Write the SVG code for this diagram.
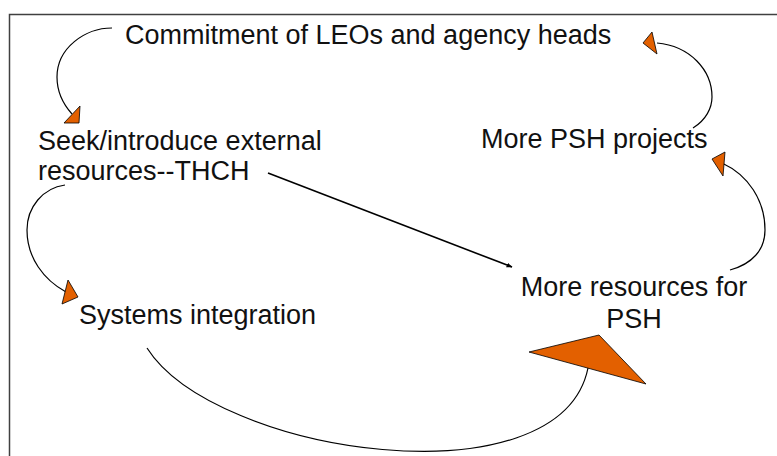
<svg xmlns="http://www.w3.org/2000/svg" width="777" height="456" viewBox="0 0 777 456">
  <defs>
    <style>
      .lbl { font-family: "Liberation Sans", Arial, sans-serif; font-size: 27px; fill: #111111; }
      .curve { fill: none; stroke: #000000; stroke-width: 1.2; }
      .head { fill: #E36000; stroke: #000000; stroke-width: 0.8; stroke-linejoin: miter; }
    </style>
    <marker id="arr" viewBox="0 0 10 10" refX="9" refY="5" markerWidth="6" markerHeight="6" orient="auto" markerUnits="userSpaceOnUse">
      <path d="M0,1 L10,5 L0,9 Z" fill="#000000"/>
    </marker>
  </defs>
  <rect x="0" y="0" width="777" height="456" fill="#ffffff"/>
  <rect x="9.5" y="14.5" width="820" height="500" fill="none" stroke="#404040" stroke-width="1.5"/>

  <g id="connectors">
    <path class="curve" d="M112,28 C85,28 57,48 57,77 C57,93 63,104 72,114"/>
    <polygon class="head" points="64,123 80,106 79,123"/>
    <path class="curve" d="M65,185 C43,188 27,207 27,230 C27,258 44,280 66,292"/>
    <polygon class="head" points="62,304 68,280 78,297"/>
    <path class="curve" d="M730,270 C752,264 765,250 765,230 C765,200 748,175 722,163"/>
    <polygon class="head" points="712,159 725,152 723,176"/>
    <path class="curve" d="M693,128 C706,120 712,108 712,97 C712,70 690,46 657,43"/>
    <polygon class="head" points="643,43 652,32 657,54"/>
    <path class="curve" d="M147,348 C215,455 560,505 588,368"/>
    <polygon class="head" points="529,352 599,335 646,384"/>
    <path d="M268,173 L512,267" stroke="#000000" stroke-width="1.6" fill="none" marker-end="url(#arr)"/>
  </g>

  <g id="node-commitment">
    <text class="lbl" x="125" y="44">Commitment of LEOs and agency heads</text>
  </g>
  <g id="node-seek">
    <text class="lbl" x="38" y="150">Seek/introduce external</text>
    <text class="lbl" x="38" y="180">resources--THCH</text>
  </g>
  <g id="node-systems">
    <text class="lbl" x="79" y="324">Systems integration</text>
  </g>
  <g id="node-more-psh">
    <text class="lbl" x="481" y="148">More PSH projects</text>
  </g>
  <g id="node-more-resources">
    <text class="lbl" x="634" y="296" text-anchor="middle">More resources for</text>
    <text class="lbl" x="634" y="328" text-anchor="middle">PSH</text>
  </g>
</svg>
